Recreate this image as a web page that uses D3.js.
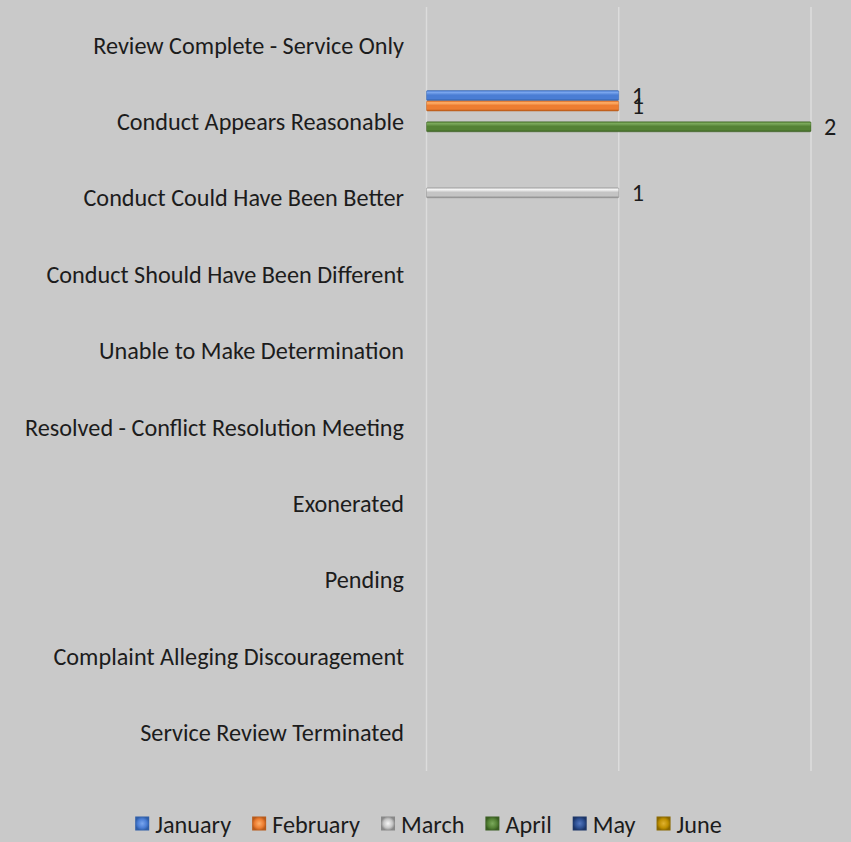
<!DOCTYPE html>
<html>
<head>
<meta charset="utf-8">
<script src="https://cdn.jsdelivr.net/npm/d3@7"></script>
<style>
  html, body { margin: 0; padding: 0; background: #c9c9c9; }
  svg { display: block; }
  .lbl { font-family: Carlito, "Open Sans", "Liberation Sans", sans-serif; fill: #1c1c1c; }
</style>
</head>
<body>
<div id="chart"></div>
<script>
// categories, top to bottom as they appear
var categories = [
  "Review Complete - Service Only",
  "Conduct Appears Reasonable",
  "Conduct Could Have Been Better",
  "Conduct Should Have Been Different",
  "Unable to Make Determination",
  "Resolved - Conflict Resolution Meeting",
  "Exonerated",
  "Pending",
  "Complaint Alleging Discouragement",
  "Service Review Terminated"
]
var months = ["January", "February", "March", "April", "May", "June"]

var january  = [0, 1, 0, 0, 0, 0, 0, 0, 0, 0]
var february = [0, 1, 0, 0, 0, 0, 0, 0, 0, 0]
var march    = [0, 0, 1, 0, 0, 0, 0, 0, 0, 0]
var april    = [0, 2, 0, 0, 0, 0, 0, 0, 0, 0]
var may      = [0, 0, 0, 0, 0, 0, 0, 0, 0, 0]
var june     = [0, 0, 0, 0, 0, 0, 0, 0, 0, 0]
var seriesValues = [january, february, march, april, may, june]
var xTicks = [0, 1, 2]

// light / mid / dark shades per month
var shades = {
  January:  ["#7aa6ee", "#4a7dd4", "#2f5ea8"],
  February: ["#ffb06a", "#ed7d31", "#b85a1a"],
  March:    ["#f6f6f6", "#c4c4c4", "#888888"],
  April:    ["#7caa5c", "#548235", "#3a5e22"],
  May:      ["#5478c0", "#2d4f91", "#1c3567"],
  June:     ["#e0b230", "#bf9000", "#8a6800"]
}

var W = 851, H = 842
var svg = d3.select("#chart").append("svg")
  .attr("width", W).attr("height", H)

svg.append("rect").attr("width", W).attr("height", H).attr("fill", "#c9c9c9")

var defs = svg.append("defs")
months.forEach(function(m, i){
  var s = shades[m]
  var g = defs.append("linearGradient")
    .attr("id", "grad" + i)
    .attr("x1", 0).attr("y1", 0).attr("x2", 0).attr("y2", 1)
  g.append("stop").attr("offset", "0%").attr("stop-color", s[1])
  g.append("stop").attr("offset", "18%").attr("stop-color", s[0])
  g.append("stop").attr("offset", "45%").attr("stop-color", s[1])
  g.append("stop").attr("offset", "80%").attr("stop-color", s[1])
  g.append("stop").attr("offset", "100%").attr("stop-color", s[2])
  var r = defs.append("radialGradient").attr("id", "leg" + i)
  r.append("stop").attr("offset", "0%").attr("stop-color", s[0])
  r.append("stop").attr("offset", "65%").attr("stop-color", s[1])
  r.append("stop").attr("offset", "100%").attr("stop-color", s[2])
})

var x = d3.scaleLinear().domain([0, 2]).range([426.5, 811])
var y0 = d3.scaleBand().domain(categories).range([7, 771]).padding(0)
var bw = y0.bandwidth()
var y1 = d3.scaleBand().domain(months)
  .range([(bw - 62) / 2, (bw + 62) / 2]).paddingInner(0.04)

// font size picked so the widest label spans like the original
var probe = svg.append("text").attr("class", "lbl").attr("font-size", 100)
  .text("Resolved - Conflict Resolution Meeting")
var fs = 100 * 379 / probe.node().getComputedTextLength()
probe.remove()

// gridlines
svg.append("g").selectAll("line")
  .data(xTicks)
  .enter()
  .append("line")
  .attr("x1", d => x(d)).attr("x2", d => x(d))
  .attr("y1", 7).attr("y2", 771)
  .attr("stroke", "#dcdcdc")
  .attr("stroke-width", 1.5)

// category labels
svg.append("g").selectAll("text")
  .data(categories)
  .enter()
  .append("text")
  .attr("class", "lbl")
  .attr("x", 404)
  .attr("y", d => y0(d) + bw / 2)
  .attr("dy", "0.35em")
  .attr("font-size", fs)
  .style("text-anchor", "end")
  .text(d => d)

// bars
var flat = []
seriesValues.forEach(function(vals, si){
  vals.forEach(function(v, ci){
    if (v > 0) flat.push({ month: months[si], si: si, cat: categories[ci], value: v })
  })
})

var bars = svg.append("g").selectAll("g")
  .data(flat)
  .enter()
  .append("g")
  .attr("transform", d => "translate(0," + (y0(d.cat) + y1(d.month)) + ")")

bars.append("rect")
  .attr("x", x(0))
  .attr("y", 0)
  .attr("width", d => x(d.value) - x(0))
  .attr("height", y1.bandwidth())
  .attr("rx", 1)
  .attr("fill", d => "url(#grad" + d.si + ")")
  .attr("stroke", d => shades[d.month][2])
  .attr("stroke-opacity", 0.6)
  .attr("stroke-width", 0.8)

bars.append("text")
  .attr("class", "lbl")
  .attr("x", d => x(d.value) + 13)
  .attr("y", y1.bandwidth() / 2)
  .attr("dy", "0.35em")
  .attr("font-size", fs)
  .text(d => d.value)

// legend
var legend = svg.append("g")
var lx = 0
var items = legend.selectAll("g")
  .data(months)
  .enter()
  .append("g")

items.append("rect")
  .attr("y", -8.5).attr("width", 14).attr("height", 14)
  .attr("fill", (d, i) => "url(#leg" + i + ")")

items.append("text")
  .attr("class", "lbl")
  .attr("x", 20)
  .attr("dy", "0.35em")
  .attr("font-size", fs)
  .text(d => d)

items.each(function(){
  var w = this.getBBox().width
  d3.select(this).attr("transform", "translate(" + lx + ",0)")
  lx += w + 21
})
var legW = lx - 21
legend.attr("transform", "translate(" + (428.5 - legW / 2) + ",825)")
</script>
</body>
</html>
